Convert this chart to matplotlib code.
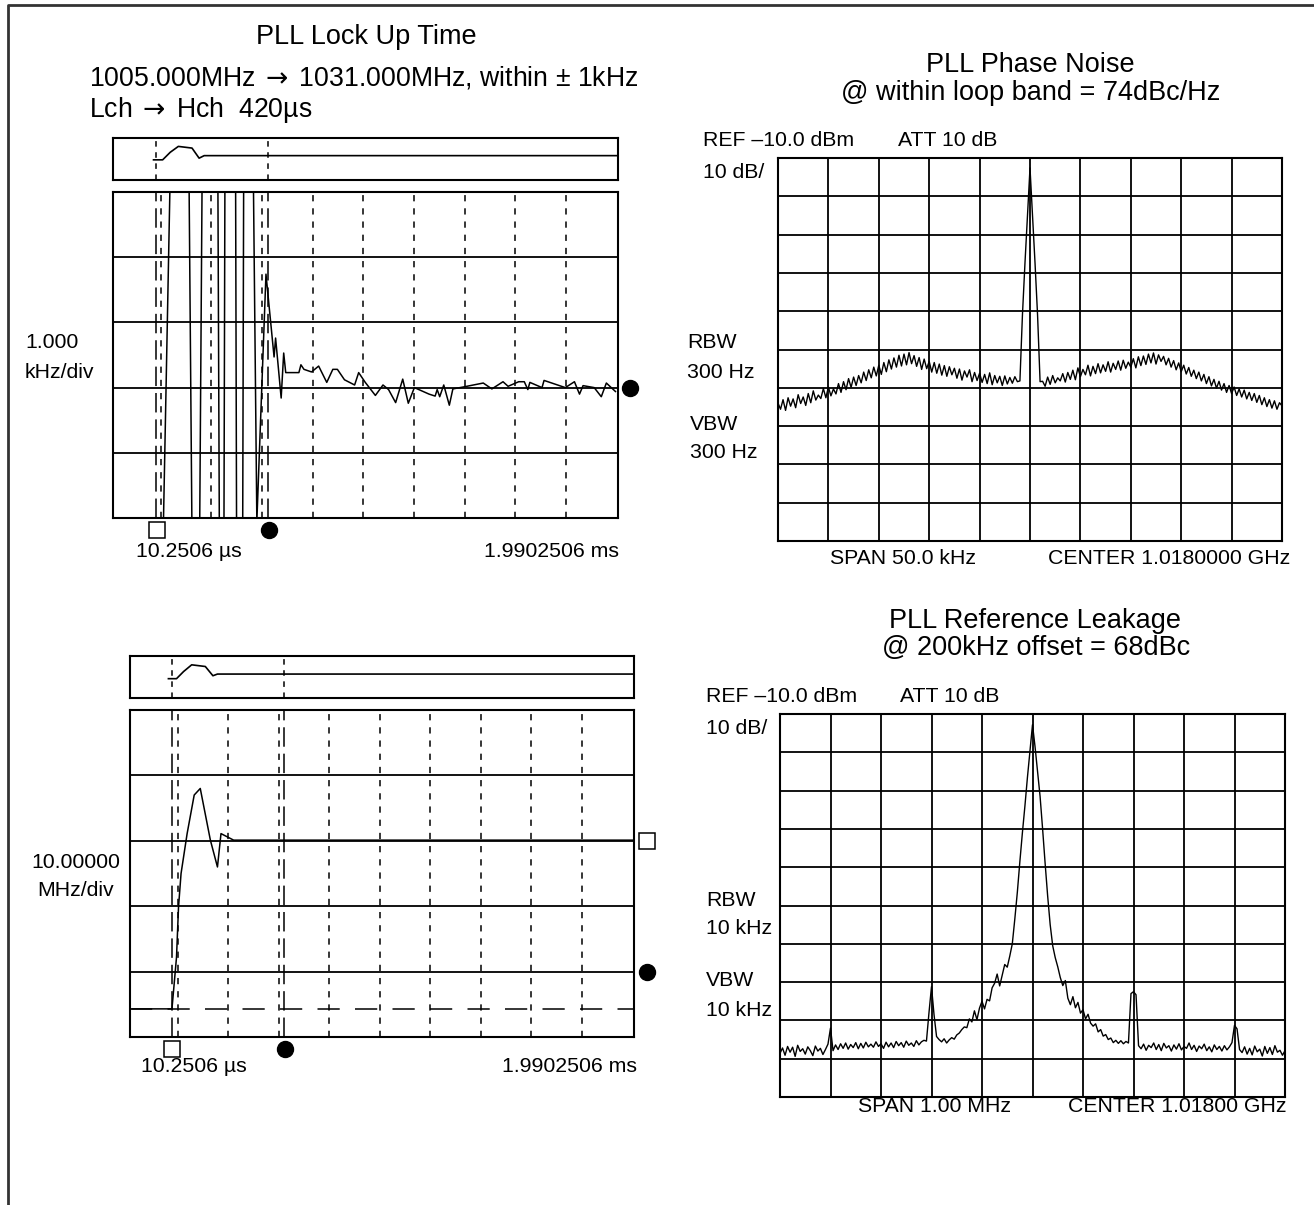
import numpy as np
import matplotlib.pyplot as plt

plt.rcParams['font.family'] = ['Liberation Sans', 'DejaVu Sans']
plt.rcParams['lines.scale_dashes'] = False

W, H = 1314, 1205

# ---- lock-up time (upper left), time / frequency in screen divisions ----
lock_t = [
    1.05, 1.19, 1.56, 1.62, 1.77, 1.82, 2.13, 2.16, 2.25, 2.27,
    2.48, 2.50, 2.62, 2.64, 2.83, 2.90, 3.08, 3.24, 3.27, 3.38,
    3.43, 3.47, 3.73, 3.77, 3.83, 3.98, 4.12, 4.28, 4.40, 4.49,
    4.63, 4.83, 4.91, 5.04, 5.24, 5.39, 5.50, 5.64, 5.78, 5.89,
    6.01, 6.30, 6.42, 6.46, 6.51, 6.59, 6.70, 6.77, 6.98, 7.37,
    7.54, 7.76, 7.86, 8.07, 8.18, 8.25, 8.29, 8.53, 8.57, 8.99,
    9.17, 9.27, 9.34, 9.56, 9.70, 9.80, 9.98]
lock_f = [
    -0.3, 5.3, 5.3, -0.3, -0.3, 5.3, 5.3, -0.3, -0.3, 5.3,
    5.3, -0.3, -0.3, 5.3, 5.3, -0.05, 3.74, 2.47, 2.76, 1.84,
    2.53, 2.23, 2.23, 2.35, 2.28, 2.24, 2.33, 2.08, 2.28, 2.28,
    2.12, 2.04, 2.23, 2.08, 1.88, 2.04, 1.97, 1.77, 2.13, 1.76,
    2.00, 1.90, 1.87, 1.97, 1.86, 2.04, 1.73, 1.98, 2.01, 2.07,
    1.98, 2.09, 2.02, 2.09, 2.09, 1.97, 2.08, 2.00, 2.11, 2.00,
    2.09, 1.90, 2.03, 2.00, 1.86, 2.07, 1.94]
lock_strip_t = [0.86, 1.04, 1.19, 1.35, 1.62, 1.76, 1.86, 10.03]
lock_strip_f = [0.48, 0.48, 0.66, 0.80, 0.76, 0.52, 0.58, 0.58]
lock_markers = [0.91, 3.12]

# ---- wide frequency step (lower left) ----
sweep_t = [0.10, 0.89, 0.98, 1.02, 1.07, 1.19, 1.33, 1.45, 1.65, 1.79, 1.86, 2.11, 10.02]
sweep_f = [0.43, 0.43, 1.22, 1.99, 2.50, 3.11, 3.70, 3.80, 3.01, 2.60, 3.11, 3.01, 3.01]
sweep_strip_t = [0.82, 0.98, 1.12, 1.28, 1.55, 1.70, 1.79, 10.02]
sweep_strip_f = [0.46, 0.46, 0.63, 0.79, 0.75, 0.53, 0.57, 0.57]
sweep_markers = [0.89, 3.10]
sweep_ref_level = 0.43

# ---- spectrum traces (dBm), 201 points across 10 divisions ----
phase_noise_dbm = [
    -74.0, -75.6, -73.1, -75.9, -72.6, -74.8, -72.9, -75.2, -71.8, -74.1,
    -72.4, -74.6, -71.5, -73.9, -70.8, -73.2, -71.9, -72.8, -70.2, -72.6,
    -69.8, -72.1, -70.3, -71.6, -68.9, -71.2, -68.4, -70.5, -67.6, -69.9,
    -67.2, -69.4, -66.8, -68.7, -65.9, -68.1, -65.3, -67.4, -64.6, -66.9,
    -64.1, -66.5, -63.4, -65.8, -62.7, -65.1, -62.2, -64.6, -61.5, -64.3,
    -61.2, -64.0, -60.8, -63.7, -61.6, -64.4, -62.1, -65.2, -62.5, -65.0,
    -63.1, -65.9, -63.4, -66.2, -63.8, -66.7, -64.2, -67.0, -64.5, -66.6,
    -64.9, -67.5, -65.1, -68.0, -65.6, -67.2, -65.3, -68.4, -66.0, -68.1,
    -66.2, -68.6, -66.5, -68.9, -66.1, -69.2, -66.8, -68.7, -67.0, -69.4,
    -66.9, -69.0, -67.3, -68.8, -67.1, -68.4, -68.2, -51.0, -37.5, -25.0,
    -12.6, -25.0, -37.5, -51.0, -68.4, -68.3, -69.6, -67.2, -69.1, -66.8,
    -68.7, -67.4, -68.2, -66.3, -68.5, -66.0, -67.8, -65.4, -67.9, -64.8,
    -67.1, -65.2, -66.6, -64.1, -66.9, -64.4, -66.3, -63.7, -66.1, -64.0,
    -65.7, -63.2, -65.9, -63.6, -65.2, -63.0, -65.4, -62.8, -64.9, -63.3,
    -64.6, -62.4, -64.8, -61.9, -64.2, -61.7, -63.9, -61.2, -63.5, -60.9,
    -63.8, -61.4, -63.1, -61.8, -64.0, -62.3, -64.6, -62.9, -65.3, -63.5,
    -65.8, -64.1, -66.4, -64.7, -67.0, -65.4, -67.6, -65.9, -68.2, -66.5,
    -68.9, -67.1, -69.5, -67.8, -70.1, -68.3, -70.6, -68.9, -71.2, -69.4,
    -71.5, -69.8, -72.0, -70.3, -72.4, -70.6, -72.9, -71.2, -73.3, -71.5,
    -73.8, -72.0, -74.4, -72.6, -74.9, -73.1, -75.3, -73.4, -75.6, -73.9,
    -74.7]
leakage_dbm = [
    -98.6, -97.2, -99.1, -96.8, -98.3, -97.0, -99.4, -96.5, -98.1, -97.4,
    -98.8, -96.9, -97.9, -99.2, -96.7, -98.0, -97.3, -98.9, -97.6, -96.2,
    -92.0, -97.9, -96.4, -97.6, -96.1, -97.3, -95.9, -97.5, -96.3, -97.1,
    -95.8, -97.4, -96.0, -97.2, -95.7, -96.9, -96.2, -97.0, -95.6, -96.8,
    -96.1, -97.3, -95.7, -96.9, -95.9, -97.1, -95.5, -96.6, -95.8, -97.0,
    -95.4, -96.5, -95.9, -96.8, -95.3, -96.4, -95.6, -95.2, -95.4, -88.0,
    -81.2, -88.5, -94.2, -95.0, -95.6, -94.8, -95.9, -95.1, -94.5, -94.9,
    -93.8, -93.3, -92.4, -91.7, -91.9, -89.6, -90.4, -87.5, -89.8, -86.8,
    -85.0, -87.0, -84.5, -84.9, -81.5, -80.3, -77.9, -81.0, -78.2, -75.4,
    -76.1, -73.2, -70.0, -63.5, -56.5, -48.5, -41.0, -34.0, -26.5, -19.5,
    -12.8, -18.5, -25.0, -31.5, -40.0, -49.0, -57.5, -65.0, -70.5, -73.6,
    -76.0, -78.8, -80.9, -79.6, -84.2, -85.9, -83.8, -86.7, -85.3, -88.1,
    -87.2, -89.6, -88.4, -90.7, -91.5, -90.9, -93.0, -92.4, -94.1, -93.7,
    -95.0, -94.6, -95.8, -95.2, -96.0, -95.3, -96.1, -95.5, -95.9, -83.0,
    -82.5, -83.3, -96.6, -97.4, -96.2, -97.8, -96.5, -97.1, -95.9, -97.6,
    -96.3, -97.9, -96.0, -97.2, -96.6, -98.0, -96.4, -97.5, -96.1, -97.7,
    -96.8, -97.3, -95.9, -97.6, -96.5, -98.1, -96.7, -97.4, -96.2, -97.9,
    -96.9, -98.2, -96.4, -97.6, -96.8, -98.0, -96.6, -97.7, -96.9, -95.8,
    -91.3, -92.2, -97.6, -98.4, -96.9, -98.8, -97.3, -99.0, -96.7, -98.2,
    -97.5, -99.3, -96.8, -98.6, -97.1, -98.9, -96.6, -98.3, -97.8, -99.1,
    -97.9]
ref_level_dbm = -10.0
db_per_div = 10.0

TITLE = 19.5
SMALL = 15.3
ARROW = '$\\:\\rightarrow\\:$'

fig = plt.figure(figsize=(W / 100, H / 100), dpi=100)


def px_axes(x0, y0, x1, y1, lw=1.5):
    ax = fig.add_axes([x0 / W, 1 - y1 / H, (x1 - x0) / W, (y1 - y0) / H])
    ax.set_xticks([])
    ax.set_yticks([])
    for s in ax.spines.values():
        s.set_linewidth(lw)
    return ax


def label(x, y, s, size=SMALL, ha='left'):
    fig.text(x / W, 1 - y / H, s, fontsize=size, ha=ha, va='center')


def lockup_panel(strip_box, box, t, f, st, sf, markers):
    xl = (0.06, 10.03)
    s = px_axes(*strip_box)
    s.set_xlim(*xl)
    s.set_ylim(0, 1)
    for m in markers:
        s.axvline(m, color='k', lw=1.1, ls=(0, (4, 4)))
    s.plot(st, sf, color='k', lw=1.2)

    ax = px_axes(*box)
    ax.set_xlim(*xl)
    ax.set_ylim(0, 5)
    for y in range(1, 5):
        ax.axhline(y, color='k', lw=1.3)
    for x in range(1, 10):
        ax.axvline(x, color='k', lw=1.1, ls=(0, (4.5, 5)))
    for m in markers:
        ax.axvline(m, color='k', lw=1.1, ls=(0, (14, 5)))
    ax.plot(t, f, color='k', lw=1.1)
    return ax


def marker(ax, x, y, kind):
    if kind == 's':
        ax.plot([x], [y], marker='s', ms=11, mfc='white', mec='k', mew=1.1,
                clip_on=False, zorder=5)
    else:
        ax.plot([x], [y], marker='o', ms=11.5, mfc='k', mec='k',
                clip_on=False, zorder=5)


def spectrum_panel(box, dbm):
    ax = px_axes(*box)
    ax.set_xlim(0, 10)
    ax.set_ylim(ref_level_dbm - 10 * db_per_div, ref_level_dbm)
    for x in range(1, 10):
        ax.axvline(x, color='k', lw=1.3)
    for k in range(1, 10):
        ax.axhline(ref_level_dbm - k * db_per_div, color='k', lw=1.3)
    ax.plot(np.linspace(0, 10, len(dbm)), dbm, color='k', lw=1.0)
    return ax


# outer frame (left and top edges)
frame = fig.add_axes([0, 0, 1, 1])
frame.set_xlim(0, W)
frame.set_ylim(H, 0)
frame.axis('off')
frame.plot([8, 8, W], [H, 5, 5], color='#333333', lw=2)

# upper left: lock-up time
ax1 = lockup_panel((113, 138, 618, 180), (113, 192, 618, 518),
                   lock_t, lock_f, lock_strip_t, lock_strip_f, lock_markers)
marker(ax1, 0.93, -0.18, 's')
marker(ax1, 3.14, -0.18, 'o')
marker(ax1, 10.27, 2.0, 'o')

label(366, 37, 'PLL Lock Up Time', TITLE, 'center')
label(89, 78, '1005.000MHz' + ARROW + '1031.000MHz, within \u00b1 1kHz', 19.2)
label(89, 110, 'Lch' + ARROW + 'Hch  420\u00b5s', 19.2)
label(25, 342, '1.000')
label(25, 372, 'kHz/div')
label(136, 552, '10.2506 \u00b5s')
label(619, 552, '1.9902506 ms', ha='right')

# lower left: wide step
ax2 = lockup_panel((130, 656, 634, 698), (130, 710, 634, 1037),
                   sweep_t, sweep_f, sweep_strip_t, sweep_strip_f, sweep_markers)
ax2.axhline(sweep_ref_level, color='k', lw=1.1, ls=(0, (16, 11)))
marker(ax2, 0.89, -0.19, 's')
marker(ax2, 3.12, -0.19, 'o')
marker(ax2, 10.29, 3.0, 's')
marker(ax2, 10.29, 1.0, 'o')

label(76, 862, '10.00000', ha='center')
label(76, 891, 'MHz/div', ha='center')
label(141, 1066, '10.2506 \u00b5s')
label(637, 1066, '1.9902506 ms', ha='right')

# upper right: phase noise
spectrum_panel((778, 158, 1282, 541), phase_noise_dbm)
label(1030, 65, 'PLL Phase Noise', TITLE, 'center')
label(1031, 93, '@ within loop band = 74dBc/Hz', TITLE, 'center')
label(703, 140, 'REF \u201310.0 dBm')
label(898, 140, 'ATT 10 dB')
label(703, 172, '10 dB/')
label(687, 343, 'RBW')
label(687, 372, '300 Hz')
label(690, 424, 'VBW')
label(690, 453, '300 Hz')
label(830, 558, 'SPAN 50.0 kHz')
label(1048, 558, 'CENTER 1.0180000 GHz')

# lower right: reference leakage
spectrum_panel((780, 714, 1285, 1097), leakage_dbm)
label(1035, 621, 'PLL Reference Leakage', TITLE, 'center')
label(1036, 648, '@ 200kHz offset = 68dBc', TITLE, 'center')
label(706, 697, 'REF \u201310.0 dBm')
label(900, 697, 'ATT 10 dB')
label(706, 728, '10 dB/')
label(706, 900, 'RBW')
label(706, 928, '10 kHz')
label(706, 980, 'VBW')
label(706, 1010, '10 kHz')
label(858, 1107, 'SPAN 1.00 MHz')
label(1068, 1107, 'CENTER 1.01800 GHz')

fig.savefig('out.png', dpi=100)
